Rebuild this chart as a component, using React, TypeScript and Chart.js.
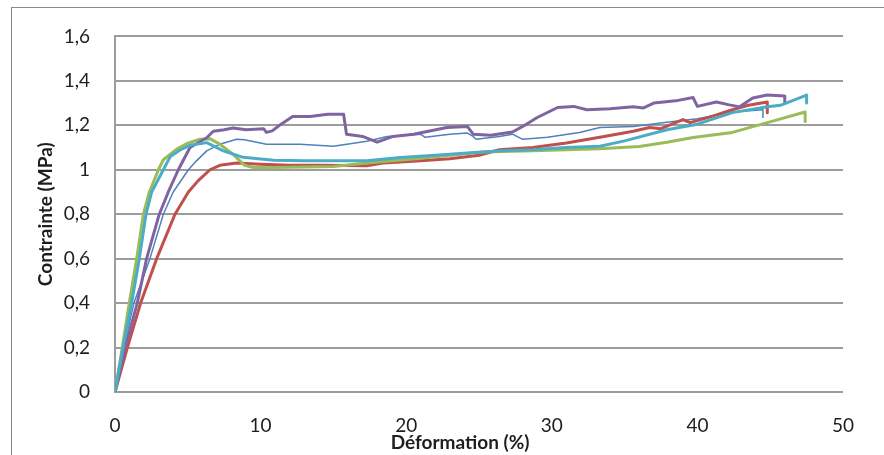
import React, { useEffect, useRef } from "react";
import { Chart, registerables } from "chart.js";

Chart.register(...registerables);

// Series: strain (%) and stress (MPa)
const cyanX = [0, 0.55, 1.14, 1.67, 2.13, 2.52, 3.32, 3.8, 4.5, 5.15, 6.3, 7.44, 8.8, 10.9, 13, 15, 17.3, 19.6, 22, 24.2, 26.5, 28.7, 31, 33.3, 35, 37.9, 40, 42.4, 44.8, 45.7, 47.5, 47.5];
const cyanY = [0, 0.2, 0.4, 0.6, 0.8, 0.9, 1.0, 1.06, 1.09, 1.11, 1.122, 1.085, 1.056, 1.043, 1.04, 1.04, 1.04, 1.055, 1.065, 1.075, 1.085, 1.09, 1.1, 1.106, 1.13, 1.18, 1.205, 1.257, 1.283, 1.29, 1.336, 1.3];

const purpleX = [0, 0.69, 1.53, 2.17, 3.04, 3.66, 4.35, 5.15, 6.3, 6.75, 7.5, 8.1, 9.0, 10.2, 10.4, 10.8, 11.3, 12.2, 13.4, 14.6, 15.7, 15.9, 17.0, 18.0, 19.1, 20.5, 22.8, 24.2, 24.6, 25.8, 27.3, 28.0, 29.0, 30.4, 31.5, 32.4, 34.0, 35.6, 36.3, 37.0, 38.5, 39.7, 40.0, 41.3, 42.2, 42.9, 43.8, 44.8, 46.0, 46.0];
const purpleY = [0, 0.2, 0.4, 0.6, 0.8, 0.9, 1.0, 1.1, 1.144, 1.173, 1.18, 1.188, 1.18, 1.185, 1.168, 1.175, 1.2, 1.24, 1.24, 1.25, 1.25, 1.16, 1.15, 1.124, 1.15, 1.16, 1.19, 1.195, 1.16, 1.155, 1.17, 1.195, 1.235, 1.28, 1.285, 1.27, 1.275, 1.283, 1.278, 1.3, 1.31, 1.325, 1.285, 1.305, 1.292, 1.283, 1.323, 1.336, 1.332, 1.3];

const greenX = [0, 0.5, 0.98, 1.49, 1.95, 2.36, 2.98, 3.32, 4.24, 5.0, 5.84, 6.5, 7.2, 8.1, 8.9, 9.5, 11, 13, 15, 17.3, 20.7, 23, 25.3, 28.7, 31, 33.3, 36, 37.9, 39.7, 42.4, 44.8, 47.4, 47.4];
const greenY = [0, 0.2, 0.4, 0.6, 0.8, 0.9, 1.0, 1.045, 1.093, 1.12, 1.137, 1.14, 1.115, 1.07, 1.02, 1.01, 1.01, 1.012, 1.015, 1.03, 1.05, 1.065, 1.08, 1.085, 1.09, 1.095, 1.105, 1.124, 1.145, 1.168, 1.212, 1.26, 1.217];

const redX = [0, 0.85, 1.76, 2.86, 4.12, 5.04, 5.7, 6.52, 7.2, 8.35, 10, 12, 14, 17.3, 18.4, 19.6, 21, 23, 25, 26.4, 28.7, 31, 33.3, 35.6, 36.7, 37.5, 39, 39.5, 41, 42.4, 43.5, 44.8, 44.8];
const redY = [0, 0.2, 0.4, 0.6, 0.8, 0.9, 0.95, 1.0, 1.02, 1.03, 1.025, 1.02, 1.02, 1.018, 1.03, 1.035, 1.04, 1.05, 1.065, 1.09, 1.1, 1.12, 1.146, 1.173, 1.19, 1.185, 1.226, 1.212, 1.24, 1.27, 1.29, 1.305, 1.257];

const blueX = [0, 0.6, 1.3, 2.4, 3.32, 4.0, 5.04, 5.6, 6.3, 7.2, 8.35, 8.9, 10.4, 12.7, 15, 17.3, 18.7, 21, 21.3, 23, 24.2, 24.6, 24.8, 26.4, 27.3, 28, 29.7, 31.9, 33.3, 35.6, 37.6, 40, 42.4, 44.5, 44.5];
const blueY = [0, 0.2, 0.4, 0.6, 0.8, 0.9, 1.0, 1.04, 1.085, 1.115, 1.137, 1.135, 1.115, 1.115, 1.106, 1.128, 1.15, 1.16, 1.146, 1.16, 1.165, 1.15, 1.137, 1.15, 1.16, 1.137, 1.146, 1.168, 1.19, 1.195, 1.212, 1.23, 1.26, 1.27, 1.235];

const xTicks = [0, 10, 20, 30, 40, 50];
const yTickLabels = ["0", "0,2", "0,4", "0,6", "0,8", "1", "1,2", "1,4", "1,6"];
const xTitle = "Déformation (%)";
const yTitle = "Contrainte (MPa)";

const FONT = "Lato, 'Open Sans', sans-serif";

function pts(xs: number[], ys: number[]) {
  return xs.map((x, i) => ({ x, y: ys[i] }));
}

export default function App() {
  const ref = useRef<HTMLCanvasElement | null>(null);

  useEffect(() => {
    if (!ref.current) return;
    const framePlugin = {
      id: "frame",
      beforeDraw(chart: any) {
        const ctx = chart.ctx;
        ctx.save();
        ctx.strokeStyle = "#8a8a8a";
        ctx.lineWidth = 1;
        ctx.strokeRect(11.5, 7.5, 2000, 2000);
        ctx.restore();
      },
      afterDraw(chart: any) {
        const ctx = chart.ctx;
        const a = chart.chartArea;
        ctx.save();
        ctx.font = "bold 19px " + FONT;
        ctx.fillStyle = "#1e1e1e";
        ctx.textAlign = "center";
        ctx.textBaseline = "middle";
        ctx.fillText(xTitle, a.left + (a.right - a.left) * 0.474, a.bottom + 51);
        ctx.restore();
      },
    };

    const common = { pointRadius: 0, tension: 0, borderJoinStyle: "round", borderCapStyle: "round", fill: false };
    const chart = new Chart(ref.current, {
      type: "line",
      data: {
        datasets: [
          { label: "5", data: pts(cyanX, cyanY), borderColor: "#4BACC6", borderWidth: 3, ...common },
          { label: "4", data: pts(purpleX, purpleY), borderColor: "#8064A2", borderWidth: 3, ...common },
          { label: "3", data: pts(greenX, greenY), borderColor: "#9BBB59", borderWidth: 3, ...common },
          { label: "2", data: pts(redX, redY), borderColor: "#C0504D", borderWidth: 3, ...common },
          { label: "1", data: pts(blueX, blueY), borderColor: "#4F81BD", borderWidth: 1.5, ...common },
        ] as any,
      },
      options: {
        animation: false,
        responsive: true,
        maintainAspectRatio: false,
        layout: { padding: { left: 0, right: 41, top: 31, bottom: 0 } },
        plugins: { legend: { display: false }, tooltip: { enabled: false }, title: { display: false } },
        scales: {
          x: {
            type: "linear",
            min: 0,
            max: 50,
            afterBuildTicks(scale: any) {
              scale.ticks = xTicks.map((v) => ({ value: v }));
            },
            afterFit(scale: any) {
              scale.height = 63;
            },
            grid: { display: false, drawTicks: false },
            border: { display: false },
            ticks: {
              padding: 22,
              color: "#1e1e1e",
              font: { family: FONT, size: 19 },
              maxRotation: 0,
              autoSkip: false,
            },
          },
          y: {
            type: "linear",
            min: 0,
            max: 1.6,
            ticks: {
              stepSize: 0.2,
              padding: 25,
              color: "#1e1e1e",
              font: { family: FONT, size: 19 },
              callback: (_v: any, i: number) => yTickLabels[i],
            },
            afterFit(scale: any) {
              scale.width = 115;
            },
            grid: { color: "#9c9c9c", lineWidth: 2, drawTicks: false },
            border: { display: true, color: "#9c9c9c", width: 2 },
            title: {
              display: true,
              text: yTitle,
              color: "#1e1e1e",
              font: { family: FONT, size: 19, weight: "bold" },
              padding: { top: 34, bottom: 0 },
            },
          },
        },
      } as any,
      plugins: [framePlugin],
    });
    return () => chart.destroy();
  }, []);

  return (
    <div style={{ position: "absolute", left: 0, top: 0, width: 884, height: 455, background: "#fff" }}>
      <canvas ref={ref} />
    </div>
  );
}
